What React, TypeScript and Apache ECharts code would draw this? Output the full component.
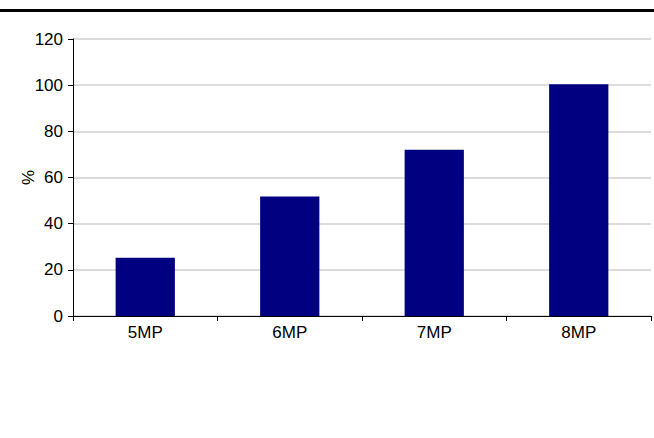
import React, { useEffect, useRef } from "react";
import * as echarts from "echarts";

const categories = ["5MP", "6MP", "7MP", "8MP"];
const values = [25.2, 51.8, 72, 100.4];
const yTicks = [0, 20, 40, 60, 80, 100, 120];

const FONT = "'Liberation Sans Narrow', 'Arial Narrow', 'Liberation Sans', sans-serif";

export default function App() {
  const ref = useRef<HTMLDivElement>(null);
  useEffect(() => {
    if (!ref.current) return;
    const chart = echarts.init(ref.current, undefined, { renderer: "svg" });
    chart.setOption({
      animation: false,
      backgroundColor: "#ffffff",
      graphic: [
        {
          type: "rect",
          shape: { x: 0, y: 9, width: 654, height: 3 },
          style: { fill: "#000000" },
        },
      ],
      grid: { left: 73, right: 3, top: 39, bottom: 122 },
      xAxis: {
        type: "category",
        data: categories,
        axisLine: { lineStyle: { color: "#000", width: 1 } },
        axisTick: { show: true, length: 5, inside: false, lineStyle: { color: "#000" } },
        axisLabel: { color: "#000", fontFamily: FONT, fontSize: 17, margin: 8 },
        splitLine: { show: false },
      },
      yAxis: {
        type: "value",
        min: yTicks[0],
        max: yTicks[yTicks.length - 1],
        interval: 20,
        name: "%",
        nameLocation: "middle",
        nameGap: 36,
        nameRotate: 90,
        nameMoveOverlap: false,
        nameTextStyle: { color: "#000", fontFamily: FONT, fontSize: 17 },
        axisLine: { show: true, lineStyle: { color: "#000", width: 1 } },
        axisTick: { show: true, length: 5, lineStyle: { color: "#000" } },
        axisLabel: { color: "#000", fontFamily: FONT, fontSize: 17, margin: 10 },
        splitLine: { show: true, lineStyle: { color: "#d0d0d0", width: 1.5 } },
      },
      series: [
        {
          type: "bar",
          data: values,
          barWidth: "41%",
          itemStyle: { color: "#000080" },
        },
      ],
    });
    return () => chart.dispose();
  }, []);
  return <div ref={ref} style={{ width: 654, height: 438, position: "absolute", left: 0, top: 0 }} />;
}
